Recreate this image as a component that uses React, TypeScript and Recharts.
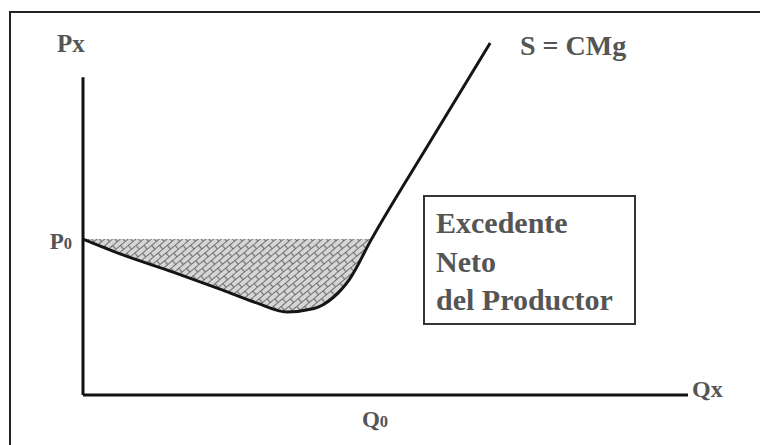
import React from "react";
import { ComposedChart, Line, Area, XAxis, YAxis, ReferenceLine } from "recharts";

// supply curve S = CMg (quantity, price)
const quantities = [0, 0.66, 1.49, 2.31, 2.88, 3.37, 3.8, 4.13, 4.41, 4.76, 5.74, 6.73];
const marginalCost = [4.43, 3.98, 3.49, 2.98, 2.61, 2.36, 2.45, 2.76, 3.3, 4.4, 7.2, 10];
const P0 = 4.43;
const Q0 = 4.76;
const yAxisTop = 9.03;
const boxLines = ["Excedente", "Neto", "del Productor"];

const data = quantities.map((q, i) => ({
  q,
  cmg: marginalCost[i],
  band: q <= Q0 ? [marginalCost[i], P0] : undefined,
}));

const FONT = "'Liberation Serif', 'Times New Roman', serif";
const TEXT = "#555";

function SubLabel({ main, sub, x, y, anchor, size }: any) {
  return (
    <text x={x} y={y} textAnchor={anchor} fontFamily={FONT} fontWeight="bold" fontSize={size} fill={TEXT}>
      {main}
      <tspan fontSize={size * 0.72}>{sub}</tspan>
    </text>
  );
}

const PTick = (props: any) => <SubLabel main="P" sub="0" x={props.x - 9} y={props.y + 10} anchor="end" size={23} />;
const QTick = (props: any) => <SubLabel main="Q" sub="0" x={props.x + 4} y={props.y + 30} anchor="middle" size={23} />;

export default function App() {
  return (
    <div style={{ position: "absolute", left: 0, top: 0, width: 760, height: 445, background: "#fff" }}>
      <div
        style={{
          position: "absolute", left: 9, top: 11, width: 760, height: 440,
          borderTop: "2px solid #222", borderLeft: "2px solid #222",
        }}
      />
      <ComposedChart
        width={760}
        height={445}
        data={data}
        margin={{ top: 43, right: 72, bottom: 10, left: 23 }}
        style={{ position: "absolute", left: 0, top: 0 }}
      >
        <defs>
          <pattern id="bricks" patternUnits="userSpaceOnUse" width="12" height="10" patternTransform="rotate(-40)">
            <rect width="12" height="10" fill="#d6d6d6" />
            <path d="M0 0.5 H12 M0 5.5 H12 M0.5 0.5 V5.5 M6.5 5.5 V10" stroke="#707070" strokeWidth="1.2" fill="none" />
          </pattern>
        </defs>
        <XAxis
          type="number"
          dataKey="q"
          domain={[0, 10]}
          ticks={[Q0]}
          tick={<QTick />}
          tickLine={false}
          tickSize={0}
          height={40}
          axisLine={{ stroke: "#111", strokeWidth: 3 }}
        />
        <YAxis
          type="number"
          domain={[0, 10]}
          ticks={[P0]}
          tick={<PTick />}
          tickLine={false}
          tickSize={0}
          width={60}
          axisLine={false}
        />
        <ReferenceLine
          segment={[{ x: 0, y: 0 }, { x: 0, y: yAxisTop }]}
          stroke="#111"
          strokeWidth={3}
          ifOverflow="visible"
        />
        <Area
          type="monotoneX"
          dataKey="band"
          stroke="none"
          fill="url(#bricks)"
          fillOpacity={1}
          isAnimationActive={false}
          connectNulls={false}
        />
        <Line
          type="monotoneX"
          dataKey="cmg"
          stroke="#151515"
          strokeWidth={3}
          dot={false}
          activeDot={false}
          isAnimationActive={false}
        />
      </ComposedChart>
      <svg width={760} height={445} style={{ position: "absolute", left: 0, top: 0, pointerEvents: "none" }}>
        <text x={57} y={52} fontFamily={FONT} fontWeight="bold" fontSize={25} fill={TEXT}>Px</text>
        <text x={520} y={55} fontFamily={FONT} fontWeight="bold" fontSize={28} fill={TEXT}>S = CMg</text>
        <text x={692} y={397} fontFamily={FONT} fontWeight="bold" fontSize={24} fill={TEXT}>Qx</text>
        <rect x={424} y={196} width={211} height={128} fill="none" stroke="#333" strokeWidth={2} />
        {boxLines.map((line, i) => (
          <text key={line} x={436} y={233 + i * 38.5} fontFamily={FONT} fontWeight="bold" fontSize={30} fill={TEXT}>
            {line}
          </text>
        ))}
      </svg>
    </div>
  );
}
